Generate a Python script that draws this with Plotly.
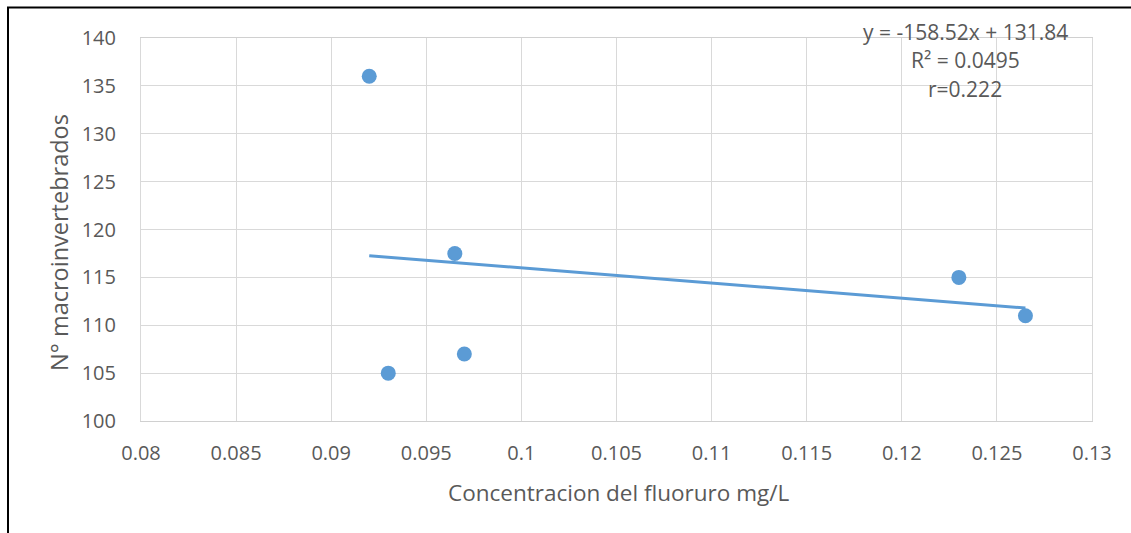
import plotly.graph_objects as go

# Data
fluoride_mg_L = [0.092, 0.0965, 0.093, 0.097, 0.123, 0.1265]
macroinvertebrates = [136, 117.5, 105, 107, 115, 111]
trend_x = [0.092, 0.1265]
trend_y = [117.26, 111.79]
x_ticks = [0.08, 0.085, 0.09, 0.095, 0.1, 0.105, 0.11, 0.115, 0.12, 0.125, 0.13]
x_tick_labels = ["0.08", "0.085", "0.09", "0.095", "0.1", "0.105", "0.11", "0.115", "0.12", "0.125", "0.13"]
y_ticks = [100, 105, 110, 115, 120, 125, 130, 135, 140]
equation_lines = ["y = -158.52x + 131.84", "R² = 0.0495", "r=0.222"]

W, H = 1131, 533
L, R, T, B = 141, 39, 37.5, 111.5
PW, PH = W - L - R, H - T - B

def px_x(p):
    return (p - L) / PW

def px_y(p):
    return (H - B - p) / PH

FONT = "Open Sans"
TXT = "#595959"
BLUE = "#5b9bd5"

fig = go.Figure()
fig.add_trace(go.Scatter(x=trend_x, y=trend_y, mode="lines",
                         line=dict(color=BLUE, width=3), hoverinfo="skip",
                         showlegend=False))
fig.add_trace(go.Scatter(x=fluoride_mg_L, y=macroinvertebrates, mode="markers",
                         marker=dict(color=BLUE, size=15, line=dict(width=0)),
                         showlegend=False))

annotations = []
for i, (txt, ycen) in enumerate(zip(equation_lines, [31, 60, 89])):
    annotations.append(dict(text=txt, xref="paper", yref="paper",
                            x=px_x(965), y=px_y(ycen), xanchor="center", yanchor="middle",
                            showarrow=False, font=dict(family=FONT, size=21, color=TXT)))
annotations.append(dict(text="Concentracion del fluoruro mg/L", xref="paper", yref="paper",
                        x=px_x(618), y=px_y(493), xanchor="center", yanchor="middle",
                        showarrow=False, font=dict(family=FONT, size=22.5, color=TXT)))
annotations.append(dict(text="N° macroinvertebrados", xref="paper", yref="paper",
                        x=px_x(59), y=px_y(243), xanchor="center", yanchor="middle",
                        textangle=-90, showarrow=False,
                        font=dict(family=FONT, size=23.5, color=TXT)))

fig.update_layout(
    width=W, height=H,
    margin=dict(l=L, r=R, t=T, b=B, pad=0),
    paper_bgcolor="white", plot_bgcolor="white",
    font=dict(family=FONT, size=20, color=TXT),
    annotations=annotations,
    shapes=[dict(type="rect", xref="paper", yref="paper",
                 x0=px_x(8), y0=px_y(560), x1=px_x(1160), y1=px_y(7),
                 line=dict(color="black", width=2), layer="above")],
    xaxis=dict(range=[0.08, 0.13], tickvals=x_ticks, ticktext=x_tick_labels,
               showgrid=True, gridcolor="#d9d9d9", gridwidth=1,
               showline=True, linecolor="#d0d0d0", linewidth=1, mirror=True,
               zeroline=False, ticks="", ticklabelstandoff=14,
               tickfont=dict(family=FONT, size=20, color=TXT)),
    yaxis=dict(range=[100, 140], tickvals=y_ticks,
               showgrid=True, gridcolor="#d9d9d9", gridwidth=1,
               showline=True, linecolor="#d9d9d9", linewidth=1, mirror=True,
               zeroline=False, ticks="", ticklabelstandoff=20,
               tickfont=dict(family=FONT, size=20, color=TXT)),
)

fig.write_html("out.html")
